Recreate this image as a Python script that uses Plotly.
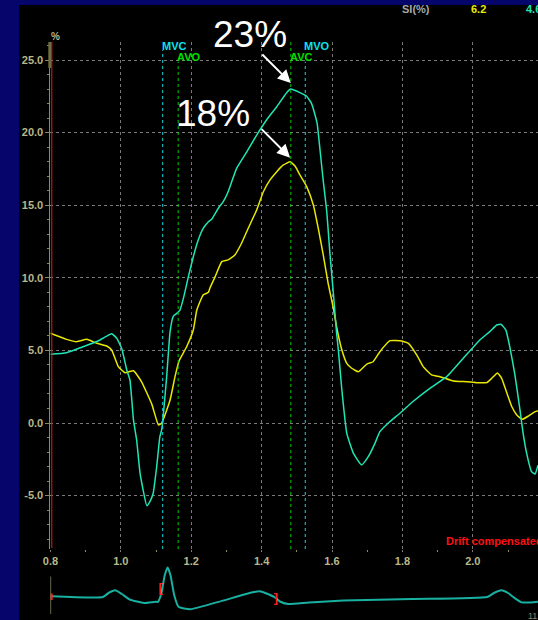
import plotly.graph_objects as go

# ---- strain curves (time in s, strain in %) ----
t_cyan = [0.800, 0.846, 0.893, 0.941, 0.974, 0.988, 1.003, 1.017, 1.026, 1.036, 1.045,
          1.055, 1.074, 1.083, 1.092, 1.102, 1.111, 1.116, 1.130, 1.140, 1.149, 1.159,
          1.168, 1.178, 1.192, 1.206, 1.220, 1.234, 1.249, 1.258, 1.277, 1.291, 1.305,
          1.329, 1.358, 1.386, 1.414, 1.443, 1.471, 1.483, 1.509, 1.528, 1.542, 1.552,
          1.558, 1.566, 1.575, 1.585, 1.594, 1.604, 1.613, 1.618, 1.628, 1.642, 1.661,
          1.684, 1.703, 1.722, 1.736, 1.760, 1.793, 1.831, 1.878, 1.926, 1.973, 2.020,
          2.048, 2.068, 2.080, 2.094, 2.105, 2.119, 2.134, 2.143, 2.153, 2.167, 2.177,
          2.185]
s_cyan = [4.73, 4.84, 5.25, 5.72, 6.15, 5.85, 5.10, 3.65, 2.96, 0.21, -1.17,
          -3.5, -5.70, -5.40, -4.84, -3.0, -0.94, -0.48, 3.1, 6.3, 7.35, 7.55,
          7.78, 8.6, 10.08, 11.45, 12.6, 13.4, 13.86, 14.03, 14.79, 15.24, 15.93,
          17.54, 18.68, 19.83, 20.87, 21.78, 22.75, 23.0, 22.75, 22.5, 22.0, 21.2,
          20.6, 18.8, 16.7, 14.6, 11.7, 8.9, 6.2, 5.03, 2.27, -0.71, -2.09,
          -2.89, -2.32, -1.4, -0.6, 0.0, 0.67, 1.5, 2.39, 3.19, 4.46, 5.72,
          6.29, 6.75, 6.8, 6.4, 5.25, 3.42, 0.9, -0.71, -2.09, -3.35, -3.51,
          -2.9]

t_yellow = [0.800, 0.846, 0.875, 0.903, 0.932, 0.960, 0.974, 0.993, 1.012, 1.036, 1.059,
            1.088, 1.107, 1.116, 1.140, 1.154, 1.166, 1.187, 1.206, 1.216, 1.234, 1.249,
            1.253, 1.268, 1.287, 1.305, 1.324, 1.343, 1.362, 1.386, 1.405, 1.424, 1.443,
            1.462, 1.481, 1.495, 1.509, 1.528, 1.547, 1.561, 1.575, 1.589, 1.604, 1.613,
            1.628, 1.642, 1.656, 1.675, 1.699, 1.717, 1.736, 1.765, 1.793, 1.817, 1.841,
            1.859, 1.883, 1.907, 1.945, 1.983, 2.011, 2.040, 2.054, 2.070, 2.082, 2.097,
            2.111, 2.125, 2.140, 2.158, 2.177, 2.185]
s_yellow = [6.18, 5.76, 5.6, 5.76, 5.49, 5.3, 5.03, 3.88, 3.46, 3.6, 2.84,
            1.3, -0.14, -0.02, 1.58, 3.19, 4.3, 5.25, 6.4, 7.78, 8.82, 9.0,
            9.28, 10.08, 11.11, 11.23, 11.57, 12.38, 13.41, 14.67, 15.93, 16.74, 17.31,
            17.77, 18.0, 17.7, 17.08, 16.28, 15.01, 13.4, 11.6, 9.62, 7.9, 6.63,
            5.03, 4.11, 3.77, 3.53, 4.06, 4.22, 4.91, 5.67, 5.67, 5.49, 4.68,
            3.88, 3.31, 3.19, 2.89, 2.84, 2.78, 2.78, 3.08, 3.45, 3.08, 2.05,
            1.12, 0.55, 0.25, 0.48, 0.78, 0.85]

# ---- ECG strip (arbitrary amplitude) ----
t_ecg = [0.803, 0.949, 0.965, 0.984, 1.003, 1.026, 1.066, 1.100, 1.105, 1.115, 1.125,
         1.133, 1.141, 1.152, 1.164, 1.198, 1.290, 1.378, 1.398, 1.437, 1.452, 1.475,
         1.535, 1.632, 1.827, 2.041, 2.060, 2.081, 2.100, 2.115, 2.139, 2.185]
a_ecg = [0.08, 0.0, 0.4, 0.67, 0.3, -0.26, -0.6, -0.47, -0.5, 0.32, 2.2,
         2.96, 2.2, 0.15, -0.98, -1.22, -0.36, 0.5, 0.56, -0.02, -0.45, -0.7,
         -0.54, -0.36, -0.2, 0.0, 0.4, 0.67, 0.4, 0.0, -0.54, -0.47]

# valve events (s)
events = ["MVC", "AVO", "AVC", "MVO"]
event_t = [1.119, 1.163, 1.483, 1.524]

# axis ticks
x_ticks = [0.8, 1.0, 1.2, 1.4, 1.6, 1.8, 2.0]
y_ticks = [-5, 0, 5, 10, 15, 20, 25]

# header readout
si_values = ["6.2", "4.6"]

NAVY = "#05056B"
KHAKI = "#B8B888"
OLIVE = "#8A8A5C"
CYAN = "#1EE6B4"
YELLOW = "#E8E800"
EV_CYAN = "#10D8E0"
EV_GREEN = "#00D000"
LBL_FONT = "Liberation Sans"

W, H = 538, 620
x_dom0 = 50.4 / W
x_range = [0.8, 0.8 + (W - 50.4) / 352.0]
y_dom = [(H - 549) / H, (H - 42) / H]
y_range = [(423 - 549) / 14.52, (423 - 42) / 14.52]
ecg_dom = [0, 0.1]
ecg_range = [(597 - 620) / 10.0, (597 - 558) / 10.0]

fig = go.Figure()

fig.add_trace(go.Scatter(x=t_yellow, y=s_yellow, mode="lines",
                         line=dict(color=YELLOW, width=1.5, shape="spline", smoothing=0.4),
                         xaxis="x", yaxis="y", hoverinfo="skip"))
fig.add_trace(go.Scatter(x=t_cyan, y=s_cyan, mode="lines",
                         line=dict(color=CYAN, width=1.5, shape="spline", smoothing=0.4),
                         xaxis="x", yaxis="y", hoverinfo="skip"))
fig.add_trace(go.Scatter(x=t_ecg, y=a_ecg, mode="lines",
                         line=dict(color="#18B0A0", width=2, shape="spline", smoothing=0.5),
                         xaxis="x2", yaxis="y2", hoverinfo="skip"))
# red event brackets on the ECG strip
fig.add_trace(go.Scatter(x=[1.113, 1.441], y=[0.83, -0.13], mode="text",
                         text=["[", "]"], xaxis="x2", yaxis="y2",
                         textfont=dict(color="#FF2020", size=13, family=LBL_FONT, weight="bold"),
                         hoverinfo="skip"))
# cursor marker at strip start
fig.add_trace(go.Scatter(x=[0.797], y=[0.05], mode="markers", xaxis="x2", yaxis="y2",
                         marker=dict(symbol="triangle-right", size=8, color=OLIVE),
                         hoverinfo="skip"))

shapes = [
    # black display panel
    dict(type="rect", xref="paper", yref="paper", x0=19 / W, x1=1, y0=0, y1=(H - 5) / H,
         fillcolor="black", line=dict(width=0), layer="below"),
    # scroll indicator on the y axis
    dict(type="line", xref="paper", yref="paper", x0=49.8 / W, x1=49.8 / W,
         y0=(H - 68) / H, y1=(H - 42) / H, line=dict(color="#6E6E40", width=3)),
    # red time cursor
    dict(type="line", xref="x", yref="y domain", x0=0.804, x1=0.804, y0=0.002, y1=1,
         line=dict(color="#E02020", width=1)),
    # ECG strip vertical marker
    dict(type="line", xref="x2", yref="y2", x0=0.8, x1=0.8, y0=2.04, y1=-1.7,
         line=dict(color=OLIVE, width=1.5)),
    dict(type="line", xref="x2", yref="y2", x0=0.8035, x1=0.8035, y0=0.35, y1=-0.3,
         line=dict(color="#FF2020", width=2)),
]
ev_colors = [EV_CYAN, EV_GREEN, EV_GREEN, EV_CYAN]
ev_tops = [0.984, 0.961, 1.0, 0.961]
for t, c, top in zip(event_t, ev_colors, ev_tops):
    shapes.append(dict(type="line", xref="x", yref="y domain", x0=t, x1=t, y0=0, y1=top,
                       line=dict(color=c, width=1, dash="dot")))

annotations = []
ev_label_y = [(H - 46) / H, (H - 57) / H, (H - 57) / H, (H - 46) / H]
ev_label_col = ["#10E0F0", "#00E000", "#00E000", "#10E0F0"]
for name, t, yy, c in zip(events, event_t, ev_label_y, ev_label_col):
    annotations.append(dict(x=t, xref="x", y=yy, yref="paper", text=name, showarrow=False,
                            xanchor="left", yanchor="middle", xshift=-3,
                            font=dict(family=LBL_FONT, size=11, color=c, weight="bold")))

# peak call-outs
i_c = s_cyan.index(max(s_cyan))
i_y = s_yellow.index(max(s_yellow))
for t_pk, v_pk, lab, tx, ty, lift in [
        (t_cyan[i_c], s_cyan[i_c], "23%", 250, 35, 6),
        (t_yellow[i_y], s_yellow[i_y], "18%", 213, 114, 4)]:
    annotations.append(dict(x=t_pk, xref="x", y=v_pk, yref="y", text="", showarrow=True,
                            ax=-30, ay=-30, yshift=lift, arrowcolor="white",
                            arrowwidth=2, arrowhead=2, arrowsize=1.3))
    annotations.append(dict(x=tx / W, xref="paper", y=(H - ty) / H, yref="paper",
                            text=lab, showarrow=False, xanchor="center", yanchor="middle",
                            font=dict(family=LBL_FONT, size=37, color="white")))

annotations += [
    dict(x=55 / W, xref="paper", y=(H - 36) / H, yref="paper", text="%", showarrow=False,
         xanchor="center", yanchor="middle",
         font=dict(family=LBL_FONT, size=10, color=KHAKI, weight="bold")),
    dict(x=400 / W, xref="paper", y=(H - 9) / H, yref="paper", text="SI(%)", showarrow=False,
         xanchor="left", yanchor="middle",
         font=dict(family=LBL_FONT, size=11, color="#A8A8A8", weight="bold")),
    dict(x=469 / W, xref="paper", y=(H - 9) / H, yref="paper", text=si_values[0],
         showarrow=False, xanchor="left", yanchor="middle",
         font=dict(family=LBL_FONT, size=11, color=YELLOW, weight="bold")),
    dict(x=524 / W, xref="paper", y=(H - 9) / H, yref="paper", text=si_values[1],
         showarrow=False, xanchor="left", yanchor="middle",
         font=dict(family=LBL_FONT, size=11, color=CYAN, weight="bold")),
    dict(x=444 / W, xref="paper", y=(H - 541) / H, yref="paper", text="Drift compensated",
         showarrow=False, xanchor="left", yanchor="middle",
         font=dict(family=LBL_FONT, size=11, color="#FF1010", weight="bold")),
    dict(x=526 / W, xref="paper", y=(H - 616) / H, yref="paper", text="11",
         showarrow=False, xanchor="left", yanchor="middle",
         font=dict(family=LBL_FONT, size=9, color="#8A8A70")),
]

fig.update_layout(
    width=W, height=H,
    margin=dict(l=0, r=0, t=0, b=0, pad=0, autoexpand=False),
    paper_bgcolor=NAVY, plot_bgcolor="black",
    showlegend=False,
    shapes=shapes, annotations=annotations,
    xaxis=dict(domain=[x_dom0, 1], range=x_range, anchor="y", automargin=False,
               tickvals=x_ticks, ticktext=[f"{v:.1f}" for v in x_ticks],
               showgrid=True, gridcolor="#7A7A7A", griddash="dot", gridwidth=1,
               zeroline=False, showline=False,
               ticks="outside", ticklen=2, tickcolor="#7A7A7A",
               minor=dict(dtick=0.1, ticks="outside", ticklen=2, tickcolor=OLIVE, showgrid=False),
               tickfont=dict(family=LBL_FONT, size=11, color=KHAKI, weight="bold")),
    yaxis=dict(domain=y_dom, range=y_range, anchor="x", automargin=False,
               tickvals=y_ticks, ticktext=[f"{v:.1f}" for v in y_ticks],
               showgrid=True, gridcolor="#7A7A7A", griddash="dot", gridwidth=1,
               zeroline=False, showline=True, linecolor=OLIVE, linewidth=1,
               ticks="outside", ticklen=4, tickcolor=OLIVE,
               minor=dict(dtick=1, ticks="outside", ticklen=2, tickcolor=OLIVE, showgrid=False),
               tickfont=dict(family=LBL_FONT, size=11, color=KHAKI, weight="bold")),
    xaxis2=dict(domain=[x_dom0, 1], range=x_range, anchor="y2", matches="x",
                automargin=False,
                showgrid=False, zeroline=False, showline=False, showticklabels=False,
                ticks=""),
    yaxis2=dict(domain=ecg_dom, range=ecg_range, anchor="x2", automargin=False,
                showgrid=False, zeroline=False, showline=False, showticklabels=False,
                ticks=""),
)

fig.write_html("out.html")
